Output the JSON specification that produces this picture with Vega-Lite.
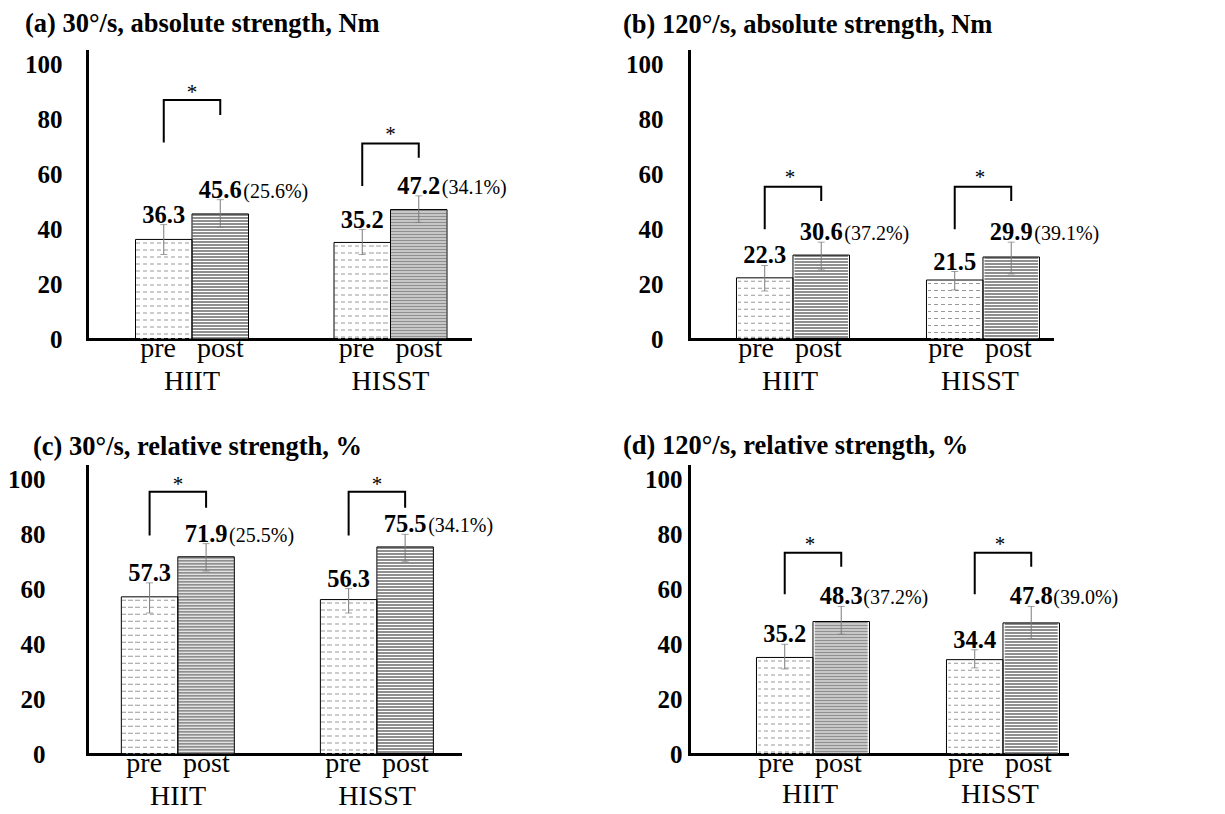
{
  "$schema": "https://vega.github.io/schema/vega-lite/v6.json",
  "background": "white",
  "padding": {"left": 7, "top": 10, "right": 5, "bottom": 2},
  "config": {
    "font": "Liberation Serif",
    "view": {"stroke": null},
    "axis": {"grid": false, "ticks": false, "tickSize": 0, "domainColor": "black", "domainWidth": 3, "labelColor": "black", "title": null, "zindex": 1}
  },
  "columns": 2,
  "bounds": "flush",
  "spacing": {"row": 127, "column": 219},
  "concat": [
    {
      "width": 383, "height": 288,
      "title": {"text": "(a) 30°/s, absolute strength, Nm", "anchor": "start", "frame": "group", "dx": -62, "offset": 14, "fontSize": 26.5, "fontWeight": "bold", "color": "black"},
      "data": {"values": [
        {"group": "HIIT", "time": "pre", "mean": 36.3, "lo": 30.8, "hi": 41.7},
        {"group": "HIIT", "time": "post", "mean": 45.6, "lo": 40.7, "hi": 50.8, "pct": "(25.6%)"},
        {"group": "HISST", "time": "pre", "mean": 35.2, "lo": 30.8, "hi": 39.9},
        {"group": "HISST", "time": "post", "mean": 47.2, "lo": 42.5, "hi": 52.2, "pct": "(34.1%)"}
      ]},
      "encoding": {
        "x": {"field": "group", "type": "nominal", "sort": ["HIIT", "HISST"],
          "scale": {"paddingInner": 0.3, "paddingOuter": 0.11475, "align": 0.78},
          "axis": {"labelExpr": "['pre\u00a0\u00a0\u00a0post', datum.value]", "labelAngle": 0, "labelFontSize": 28, "labelLineHeight": 33, "labelPadding": 17, "labelBaseline": "alphabetic", "domainCap": "square"}}
      },
      "layer": [
        {"transform": [{"filter": "datum.time === 'pre'"}],
         "mark": {"type": "rule", "strokeWidth": 55.5, "strokeDash": [1, 6], "strokeDashOffset": -3, "color": "#999999"},
         "encoding": {
           "xOffset": {"field": "time", "type": "nominal", "sort": ["pre", "post"], "scale": {"paddingInner": 0, "paddingOuter": 0.2296}},
           "y": {"field": "mean", "type": "quantitative", "scale": {"domain": [0, 105], "nice": false},
             "axis": {"values": [0, 20, 40, 60, 80, 100], "labelFontSize": 25, "labelFontWeight": "bold", "labelPadding": 25, "domainCap": "square"}},
           "y2": {"datum": 0}}},
        {"transform": [{"filter": "datum.time === 'pre'"}],
         "mark": {"type": "bar", "stroke": null, "fill": {"gradient": "linear", "x1": 0, "y1": 0, "x2": 1, "y2": 0, "stops": [
           {"offset": 0, "color": "rgba(255,255,255,0)"}, {"offset": 0.075, "color": "rgba(255,255,255,0)"}, {"offset": 0.075, "color": "#ffffff"}, {"offset": 0.125, "color": "#ffffff"},
           {"offset": 0.125, "color": "rgba(255,255,255,0)"}, {"offset": 0.2, "color": "rgba(255,255,255,0)"}, {"offset": 0.2, "color": "#ffffff"}, {"offset": 0.25, "color": "#ffffff"},
           {"offset": 0.25, "color": "rgba(255,255,255,0)"}, {"offset": 0.325, "color": "rgba(255,255,255,0)"}, {"offset": 0.325, "color": "#ffffff"}, {"offset": 0.375, "color": "#ffffff"},
           {"offset": 0.375, "color": "rgba(255,255,255,0)"}, {"offset": 0.45, "color": "rgba(255,255,255,0)"}, {"offset": 0.45, "color": "#ffffff"}, {"offset": 0.5, "color": "#ffffff"},
           {"offset": 0.5, "color": "rgba(255,255,255,0)"}, {"offset": 0.575, "color": "rgba(255,255,255,0)"}, {"offset": 0.575, "color": "#ffffff"}, {"offset": 0.625, "color": "#ffffff"},
           {"offset": 0.625, "color": "rgba(255,255,255,0)"}, {"offset": 0.7, "color": "rgba(255,255,255,0)"}, {"offset": 0.7, "color": "#ffffff"}, {"offset": 0.75, "color": "#ffffff"},
           {"offset": 0.75, "color": "rgba(255,255,255,0)"}, {"offset": 0.825, "color": "rgba(255,255,255,0)"}, {"offset": 0.825, "color": "#ffffff"}, {"offset": 0.875, "color": "#ffffff"},
           {"offset": 0.875, "color": "rgba(255,255,255,0)"}, {"offset": 0.95, "color": "rgba(255,255,255,0)"}, {"offset": 0.95, "color": "#ffffff"}, {"offset": 1, "color": "#ffffff"}]}},
         "encoding": {
           "xOffset": {"field": "time", "type": "nominal", "sort": ["pre", "post"], "scale": {"paddingInner": 0, "paddingOuter": 0.2296}},
           "y": {"field": "mean", "type": "quantitative"}}},
        {"transform": [{"filter": "datum.time === 'post'"}],
         "mark": {"type": "rule", "strokeWidth": 55.5, "strokeDash": [2, 1], "color": "#8f8f8f"},
         "encoding": {
           "xOffset": {"field": "time", "type": "nominal", "sort": ["pre", "post"], "scale": {"paddingInner": 0, "paddingOuter": 0.2296}},
           "y": {"field": "mean", "type": "quantitative"}, "y2": {"datum": 0}}},
        {"mark": {"type": "bar", "fillOpacity": 0, "stroke": "black", "strokeWidth": 1},
         "encoding": {
           "xOffset": {"field": "time", "type": "nominal", "sort": ["pre", "post"], "scale": {"paddingInner": 0, "paddingOuter": 0.2296}},
           "y": {"field": "mean", "type": "quantitative"}}},
        {"mark": {"type": "rule", "color": "#7a7a7a", "strokeWidth": 1},
         "encoding": {
           "xOffset": {"field": "time", "type": "nominal", "sort": ["pre", "post"], "scale": {"paddingInner": 0, "paddingOuter": 0.2296}},
           "y": {"field": "lo", "type": "quantitative"}, "y2": {"field": "hi"}}},
        {"mark": {"type": "tick", "color": "#7a7a7a", "thickness": 1, "size": 7},
         "encoding": {
           "xOffset": {"field": "time", "type": "nominal", "sort": ["pre", "post"], "scale": {"paddingInner": 0, "paddingOuter": 0.2296}},
           "y": {"field": "lo", "type": "quantitative"}}},
        {"mark": {"type": "tick", "color": "#7a7a7a", "thickness": 1, "size": 7},
         "encoding": {
           "xOffset": {"field": "time", "type": "nominal", "sort": ["pre", "post"], "scale": {"paddingInner": 0, "paddingOuter": 0.2296}},
           "y": {"field": "hi", "type": "quantitative"}}},
        {"mark": {"type": "text", "fontSize": 24.5, "fontWeight": "bold", "baseline": "alphabetic", "dy": -2, "color": "black"},
         "encoding": {
           "xOffset": {"field": "time", "type": "nominal", "sort": ["pre", "post"], "scale": {"paddingInner": 0, "paddingOuter": 0.2296}},
           "y": {"field": "hi", "type": "quantitative"}, "text": {"field": "mean", "format": ".1f"}}},
        {"transform": [{"filter": "datum.pct"}],
         "mark": {"type": "text", "fontSize": 20, "align": "left", "baseline": "alphabetic", "dx": 23, "dy": -2, "color": "black"},
         "encoding": {
           "xOffset": {"field": "time", "type": "nominal", "sort": ["pre", "post"], "scale": {"paddingInner": 0, "paddingOuter": 0.2296}},
           "y": {"field": "hi", "type": "quantitative"}, "text": {"field": "pct"}}},
        {"data": {"values": [
          {"group": "HIIT", "time": "pre", "y": 71.6, "ord": 1}, {"group": "HIIT", "time": "pre", "y": 87.1, "ord": 2},
          {"group": "HIIT", "time": "post", "y": 87.1, "ord": 3}, {"group": "HIIT", "time": "post", "y": 81.7, "ord": 4},
          {"group": "HISST", "time": "pre", "y": 55.8, "ord": 1}, {"group": "HISST", "time": "pre", "y": 71.3, "ord": 2},
          {"group": "HISST", "time": "post", "y": 71.3, "ord": 3}, {"group": "HISST", "time": "post", "y": 66.1, "ord": 4}]},
         "mark": {"type": "line", "color": "black", "strokeWidth": 2},
         "encoding": {
           "xOffset": {"field": "time", "type": "nominal", "sort": ["pre", "post"], "scale": {"paddingInner": 0, "paddingOuter": 0.2296}},
           "y": {"field": "y", "type": "quantitative"}, "detail": {"field": "group"}, "order": {"field": "ord"}}},
        {"data": {"values": [{"group": "HIIT", "y": 89.6}, {"group": "HISST", "y": 74.4}]},
         "mark": {"type": "text", "fontSize": 21, "baseline": "middle", "color": "black"},
         "encoding": {"y": {"field": "y", "type": "quantitative"}, "text": {"value": "*"}}}
      ]
    },
    {
      "width": 363, "height": 288,
      "title": {"text": "(b) 120°/s, absolute strength, Nm", "anchor": "start", "frame": "group", "dx": -66, "offset": 13, "fontSize": 26.5, "fontWeight": "bold", "color": "black"},
      "data": {"values": [
        {"group": "HIIT", "time": "pre", "mean": 22.3, "lo": 17.5, "hi": 26.8},
        {"group": "HIIT", "time": "post", "mean": 30.6, "lo": 25.2, "hi": 35.3, "pct": "\u00a0(37.2%)"},
        {"group": "HISST", "time": "pre", "mean": 21.5, "lo": 17.9, "hi": 24.6},
        {"group": "HISST", "time": "post", "mean": 29.9, "lo": 23.7, "hi": 35.3, "pct": "\u00a0(39.1%)"}
      ]},
      "encoding": {
        "x": {"field": "group", "type": "nominal", "sort": ["HIIT", "HISST"],
          "scale": {"paddingInner": 0.3, "paddingOuter": 0.10526, "align": 0.8625},
          "axis": {"labelExpr": "['pre\u00a0\u00a0\u00a0post', datum.value]", "labelAngle": 0, "labelFontSize": 28, "labelLineHeight": 33, "labelPadding": 17, "labelBaseline": "alphabetic", "domainCap": "square"}}
      },
      "layer": [
        {"transform": [{"filter": "datum.time === 'pre'"}],
         "mark": {"type": "rule", "strokeWidth": 53.5, "strokeDash": [1, 6], "strokeDashOffset": -3, "color": "#999999"},
         "encoding": {
           "xOffset": {"field": "time", "type": "nominal", "sort": ["pre", "post"], "scale": {"paddingInner": 0, "paddingOuter": 0.22}},
           "y": {"field": "mean", "type": "quantitative", "scale": {"domain": [0, 105], "nice": false},
             "axis": {"values": [0, 20, 40, 60, 80, 100], "labelFontSize": 25, "labelFontWeight": "bold", "labelPadding": 26, "domainCap": "square"}},
           "y2": {"datum": 0}}},
        {"transform": [{"filter": "datum.time === 'pre'"}],
         "mark": {"type": "bar", "stroke": null, "fill": {"gradient": "linear", "x1": 0, "y1": 0, "x2": 1, "y2": 0, "stops": [
           {"offset": 0, "color": "rgba(255,255,255,0)"}, {"offset": 0.075, "color": "rgba(255,255,255,0)"}, {"offset": 0.075, "color": "#ffffff"}, {"offset": 0.125, "color": "#ffffff"},
           {"offset": 0.125, "color": "rgba(255,255,255,0)"}, {"offset": 0.2, "color": "rgba(255,255,255,0)"}, {"offset": 0.2, "color": "#ffffff"}, {"offset": 0.25, "color": "#ffffff"},
           {"offset": 0.25, "color": "rgba(255,255,255,0)"}, {"offset": 0.325, "color": "rgba(255,255,255,0)"}, {"offset": 0.325, "color": "#ffffff"}, {"offset": 0.375, "color": "#ffffff"},
           {"offset": 0.375, "color": "rgba(255,255,255,0)"}, {"offset": 0.45, "color": "rgba(255,255,255,0)"}, {"offset": 0.45, "color": "#ffffff"}, {"offset": 0.5, "color": "#ffffff"},
           {"offset": 0.5, "color": "rgba(255,255,255,0)"}, {"offset": 0.575, "color": "rgba(255,255,255,0)"}, {"offset": 0.575, "color": "#ffffff"}, {"offset": 0.625, "color": "#ffffff"},
           {"offset": 0.625, "color": "rgba(255,255,255,0)"}, {"offset": 0.7, "color": "rgba(255,255,255,0)"}, {"offset": 0.7, "color": "#ffffff"}, {"offset": 0.75, "color": "#ffffff"},
           {"offset": 0.75, "color": "rgba(255,255,255,0)"}, {"offset": 0.825, "color": "rgba(255,255,255,0)"}, {"offset": 0.825, "color": "#ffffff"}, {"offset": 0.875, "color": "#ffffff"},
           {"offset": 0.875, "color": "rgba(255,255,255,0)"}, {"offset": 0.95, "color": "rgba(255,255,255,0)"}, {"offset": 0.95, "color": "#ffffff"}, {"offset": 1, "color": "#ffffff"}]}},
         "encoding": {
           "xOffset": {"field": "time", "type": "nominal", "sort": ["pre", "post"], "scale": {"paddingInner": 0, "paddingOuter": 0.22}},
           "y": {"field": "mean", "type": "quantitative"}}},
        {"transform": [{"filter": "datum.time === 'post'"}],
         "mark": {"type": "rule", "strokeWidth": 53.5, "strokeDash": [2, 1], "color": "#8f8f8f"},
         "encoding": {
           "xOffset": {"field": "time", "type": "nominal", "sort": ["pre", "post"], "scale": {"paddingInner": 0, "paddingOuter": 0.22}},
           "y": {"field": "mean", "type": "quantitative"}, "y2": {"datum": 0}}},
        {"mark": {"type": "bar", "fillOpacity": 0, "stroke": "black", "strokeWidth": 1},
         "encoding": {
           "xOffset": {"field": "time", "type": "nominal", "sort": ["pre", "post"], "scale": {"paddingInner": 0, "paddingOuter": 0.22}},
           "y": {"field": "mean", "type": "quantitative"}}},
        {"mark": {"type": "rule", "color": "#7a7a7a", "strokeWidth": 1},
         "encoding": {
           "xOffset": {"field": "time", "type": "nominal", "sort": ["pre", "post"], "scale": {"paddingInner": 0, "paddingOuter": 0.22}},
           "y": {"field": "lo", "type": "quantitative"}, "y2": {"field": "hi"}}},
        {"mark": {"type": "tick", "color": "#7a7a7a", "thickness": 1, "size": 7},
         "encoding": {
           "xOffset": {"field": "time", "type": "nominal", "sort": ["pre", "post"], "scale": {"paddingInner": 0, "paddingOuter": 0.22}},
           "y": {"field": "lo", "type": "quantitative"}}},
        {"mark": {"type": "tick", "color": "#7a7a7a", "thickness": 1, "size": 7},
         "encoding": {
           "xOffset": {"field": "time", "type": "nominal", "sort": ["pre", "post"], "scale": {"paddingInner": 0, "paddingOuter": 0.22}},
           "y": {"field": "hi", "type": "quantitative"}}},
        {"mark": {"type": "text", "fontSize": 24.5, "fontWeight": "bold", "baseline": "alphabetic", "dy": -2, "color": "black"},
         "encoding": {
           "xOffset": {"field": "time", "type": "nominal", "sort": ["pre", "post"], "scale": {"paddingInner": 0, "paddingOuter": 0.22}},
           "y": {"field": "hi", "type": "quantitative"}, "text": {"field": "mean", "format": ".1f"}}},
        {"transform": [{"filter": "datum.pct"}],
         "mark": {"type": "text", "fontSize": 20, "align": "left", "baseline": "alphabetic", "dx": 23, "dy": -2, "color": "black"},
         "encoding": {
           "xOffset": {"field": "time", "type": "nominal", "sort": ["pre", "post"], "scale": {"paddingInner": 0, "paddingOuter": 0.22}},
           "y": {"field": "hi", "type": "quantitative"}, "text": {"field": "pct"}}},
        {"data": {"values": [
          {"group": "HIIT", "time": "pre", "y": 40.0, "ord": 1}, {"group": "HIIT", "time": "pre", "y": 55.5, "ord": 2},
          {"group": "HIIT", "time": "post", "y": 55.5, "ord": 3}, {"group": "HIIT", "time": "post", "y": 50.3, "ord": 4},
          {"group": "HISST", "time": "pre", "y": 40.0, "ord": 1}, {"group": "HISST", "time": "pre", "y": 55.5, "ord": 2},
          {"group": "HISST", "time": "post", "y": 55.5, "ord": 3}, {"group": "HISST", "time": "post", "y": 50.3, "ord": 4}]},
         "mark": {"type": "line", "color": "black", "strokeWidth": 2},
         "encoding": {
           "xOffset": {"field": "time", "type": "nominal", "sort": ["pre", "post"], "scale": {"paddingInner": 0, "paddingOuter": 0.22}},
           "y": {"field": "y", "type": "quantitative"}, "detail": {"field": "group"}, "order": {"field": "ord"}}},
        {"data": {"values": [{"group": "HIIT", "y": 58.7}, {"group": "HISST", "y": 58.7}]},
         "mark": {"type": "text", "fontSize": 21, "baseline": "middle", "color": "black"},
         "encoding": {"y": {"field": "y", "type": "quantitative"}, "text": {"value": "*"}}}
      ]
    },
    {
      "width": 373, "height": 288,
      "title": {"text": "(c) 30°/s, relative strength, %", "anchor": "start", "frame": "group", "dx": -54, "offset": 6, "fontSize": 26.5, "fontWeight": "bold", "color": "black"},
      "data": {"values": [
        {"group": "HIIT", "time": "pre", "mean": 57.3, "lo": 51.4, "hi": 62.4},
        {"group": "HIIT", "time": "post", "mean": 71.9, "lo": 66.7, "hi": 76.7, "pct": "(25.5%)"},
        {"group": "HISST", "time": "pre", "mean": 56.3, "lo": 51.4, "hi": 60.3},
        {"group": "HISST", "time": "post", "mean": 75.5, "lo": 70.1, "hi": 80.1, "pct": "\u00a0(34.1%)"}
      ]},
      "encoding": {
        "x": {"field": "group", "type": "nominal", "sort": ["HIIT", "HISST"],
          "scale": {"paddingInner": 0.3, "paddingOuter": 0.087, "align": 0.617},
          "axis": {"labelExpr": "['pre\u00a0\u00a0\u00a0post', datum.value]", "labelAngle": 0, "labelFontSize": 28, "labelLineHeight": 33, "labelPadding": 17, "labelBaseline": "alphabetic", "domainCap": "square"}}
      },
      "layer": [
        {"transform": [{"filter": "datum.time === 'pre'"}],
         "mark": {"type": "rule", "strokeWidth": 55.75, "strokeDash": [1, 6], "strokeDashOffset": -3, "color": "#999999"},
         "encoding": {
           "xOffset": {"field": "time", "type": "nominal", "sort": ["pre", "post"], "scale": {"paddingInner": 0, "paddingOuter": 0.227}},
           "y": {"field": "mean", "type": "quantitative", "scale": {"domain": [0, 105], "nice": false},
             "axis": {"values": [0, 20, 40, 60, 80, 100], "labelFontSize": 25, "labelFontWeight": "bold", "labelPadding": 42, "domainCap": "square"}},
           "y2": {"datum": 0}}},
        {"transform": [{"filter": "datum.time === 'pre'"}],
         "mark": {"type": "bar", "stroke": null, "fill": {"gradient": "linear", "x1": 0, "y1": 0, "x2": 1, "y2": 0, "stops": [
           {"offset": 0, "color": "rgba(255,255,255,0)"}, {"offset": 0.075, "color": "rgba(255,255,255,0)"}, {"offset": 0.075, "color": "#ffffff"}, {"offset": 0.125, "color": "#ffffff"},
           {"offset": 0.125, "color": "rgba(255,255,255,0)"}, {"offset": 0.2, "color": "rgba(255,255,255,0)"}, {"offset": 0.2, "color": "#ffffff"}, {"offset": 0.25, "color": "#ffffff"},
           {"offset": 0.25, "color": "rgba(255,255,255,0)"}, {"offset": 0.325, "color": "rgba(255,255,255,0)"}, {"offset": 0.325, "color": "#ffffff"}, {"offset": 0.375, "color": "#ffffff"},
           {"offset": 0.375, "color": "rgba(255,255,255,0)"}, {"offset": 0.45, "color": "rgba(255,255,255,0)"}, {"offset": 0.45, "color": "#ffffff"}, {"offset": 0.5, "color": "#ffffff"},
           {"offset": 0.5, "color": "rgba(255,255,255,0)"}, {"offset": 0.575, "color": "rgba(255,255,255,0)"}, {"offset": 0.575, "color": "#ffffff"}, {"offset": 0.625, "color": "#ffffff"},
           {"offset": 0.625, "color": "rgba(255,255,255,0)"}, {"offset": 0.7, "color": "rgba(255,255,255,0)"}, {"offset": 0.7, "color": "#ffffff"}, {"offset": 0.75, "color": "#ffffff"},
           {"offset": 0.75, "color": "rgba(255,255,255,0)"}, {"offset": 0.825, "color": "rgba(255,255,255,0)"}, {"offset": 0.825, "color": "#ffffff"}, {"offset": 0.875, "color": "#ffffff"},
           {"offset": 0.875, "color": "rgba(255,255,255,0)"}, {"offset": 0.95, "color": "rgba(255,255,255,0)"}, {"offset": 0.95, "color": "#ffffff"}, {"offset": 1, "color": "#ffffff"}]}},
         "encoding": {
           "xOffset": {"field": "time", "type": "nominal", "sort": ["pre", "post"], "scale": {"paddingInner": 0, "paddingOuter": 0.227}},
           "y": {"field": "mean", "type": "quantitative"}}},
        {"transform": [{"filter": "datum.time === 'post'"}],
         "mark": {"type": "rule", "strokeWidth": 55.75, "strokeDash": [2, 1], "color": "#8f8f8f"},
         "encoding": {
           "xOffset": {"field": "time", "type": "nominal", "sort": ["pre", "post"], "scale": {"paddingInner": 0, "paddingOuter": 0.227}},
           "y": {"field": "mean", "type": "quantitative"}, "y2": {"datum": 0}}},
        {"mark": {"type": "bar", "fillOpacity": 0, "stroke": "black", "strokeWidth": 1},
         "encoding": {
           "xOffset": {"field": "time", "type": "nominal", "sort": ["pre", "post"], "scale": {"paddingInner": 0, "paddingOuter": 0.227}},
           "y": {"field": "mean", "type": "quantitative"}}},
        {"mark": {"type": "rule", "color": "#7a7a7a", "strokeWidth": 1},
         "encoding": {
           "xOffset": {"field": "time", "type": "nominal", "sort": ["pre", "post"], "scale": {"paddingInner": 0, "paddingOuter": 0.227}},
           "y": {"field": "lo", "type": "quantitative"}, "y2": {"field": "hi"}}},
        {"mark": {"type": "tick", "color": "#7a7a7a", "thickness": 1, "size": 7},
         "encoding": {
           "xOffset": {"field": "time", "type": "nominal", "sort": ["pre", "post"], "scale": {"paddingInner": 0, "paddingOuter": 0.227}},
           "y": {"field": "lo", "type": "quantitative"}}},
        {"mark": {"type": "tick", "color": "#7a7a7a", "thickness": 1, "size": 7},
         "encoding": {
           "xOffset": {"field": "time", "type": "nominal", "sort": ["pre", "post"], "scale": {"paddingInner": 0, "paddingOuter": 0.227}},
           "y": {"field": "hi", "type": "quantitative"}}},
        {"mark": {"type": "text", "fontSize": 24.5, "fontWeight": "bold", "baseline": "alphabetic", "dy": -2, "color": "black"},
         "encoding": {
           "xOffset": {"field": "time", "type": "nominal", "sort": ["pre", "post"], "scale": {"paddingInner": 0, "paddingOuter": 0.227}},
           "y": {"field": "hi", "type": "quantitative"}, "text": {"field": "mean", "format": ".1f"}}},
        {"transform": [{"filter": "datum.pct"}],
         "mark": {"type": "text", "fontSize": 20, "align": "left", "baseline": "alphabetic", "dx": 23, "dy": -2, "color": "black"},
         "encoding": {
           "xOffset": {"field": "time", "type": "nominal", "sort": ["pre", "post"], "scale": {"paddingInner": 0, "paddingOuter": 0.227}},
           "y": {"field": "hi", "type": "quantitative"}, "text": {"field": "pct"}}},
        {"data": {"values": [
          {"group": "HIIT", "time": "pre", "y": 79.7, "ord": 1}, {"group": "HIIT", "time": "pre", "y": 95.6, "ord": 2},
          {"group": "HIIT", "time": "post", "y": 95.6, "ord": 3}, {"group": "HIIT", "time": "post", "y": 89.8, "ord": 4},
          {"group": "HISST", "time": "pre", "y": 79.7, "ord": 1}, {"group": "HISST", "time": "pre", "y": 95.6, "ord": 2},
          {"group": "HISST", "time": "post", "y": 95.6, "ord": 3}, {"group": "HISST", "time": "post", "y": 89.8, "ord": 4}]},
         "mark": {"type": "line", "color": "black", "strokeWidth": 2},
         "encoding": {
           "xOffset": {"field": "time", "type": "nominal", "sort": ["pre", "post"], "scale": {"paddingInner": 0, "paddingOuter": 0.227}},
           "y": {"field": "y", "type": "quantitative"}, "detail": {"field": "group"}, "order": {"field": "ord"}}},
        {"data": {"values": [{"group": "HIIT", "y": 98.1}, {"group": "HISST", "y": 98.1}]},
         "mark": {"type": "text", "fontSize": 21, "baseline": "middle", "color": "black"},
         "encoding": {"y": {"field": "y", "type": "quantitative"}, "text": {"value": "*"}}}
      ]
    },
    {
      "width": 378, "height": 288,
      "title": {"text": "(d) 120°/s, relative strength, %", "anchor": "start", "frame": "group", "dx": -66, "offset": 7, "fontSize": 26.5, "fontWeight": "bold", "color": "black"},
      "data": {"values": [
        {"group": "HIIT", "time": "pre", "mean": 35.2, "lo": 31.0, "hi": 40.0},
        {"group": "HIIT", "time": "post", "mean": 48.3, "lo": 43.7, "hi": 53.8, "pct": "(37.2%)"},
        {"group": "HISST", "time": "pre", "mean": 34.4, "lo": 31.4, "hi": 38.0},
        {"group": "HISST", "time": "post", "mean": 47.8, "lo": 42.1, "hi": 53.8, "pct": "(39.0%)"}
      ]},
      "encoding": {
        "x": {"field": "group", "type": "nominal", "sort": ["HIIT", "HISST"],
          "scale": {"paddingInner": 0.3, "paddingOuter": 0.14474, "align": 0.991},
          "axis": {"labelExpr": "['pre\u00a0\u00a0\u00a0post', datum.value]", "labelAngle": 0, "labelFontSize": 28, "labelLineHeight": 31, "labelPadding": 17, "labelBaseline": "alphabetic", "domainCap": "square"}}
      },
      "layer": [
        {"transform": [{"filter": "datum.time === 'pre'"}],
         "mark": {"type": "rule", "strokeWidth": 53, "strokeDash": [1, 6], "strokeDashOffset": -3, "color": "#999999"},
         "encoding": {
           "xOffset": {"field": "time", "type": "nominal", "sort": ["pre", "post"], "scale": {"paddingInner": 0, "paddingOuter": 0.2315}},
           "y": {"field": "mean", "type": "quantitative", "scale": {"domain": [0, 105], "nice": false},
             "axis": {"values": [0, 20, 40, 60, 80, 100], "labelFontSize": 25, "labelFontWeight": "bold", "labelPadding": 7, "domainCap": "square"}},
           "y2": {"datum": 0}}},
        {"transform": [{"filter": "datum.time === 'pre'"}],
         "mark": {"type": "bar", "stroke": null, "fill": {"gradient": "linear", "x1": 0, "y1": 0, "x2": 1, "y2": 0, "stops": [
           {"offset": 0, "color": "rgba(255,255,255,0)"}, {"offset": 0.075, "color": "rgba(255,255,255,0)"}, {"offset": 0.075, "color": "#ffffff"}, {"offset": 0.125, "color": "#ffffff"},
           {"offset": 0.125, "color": "rgba(255,255,255,0)"}, {"offset": 0.2, "color": "rgba(255,255,255,0)"}, {"offset": 0.2, "color": "#ffffff"}, {"offset": 0.25, "color": "#ffffff"},
           {"offset": 0.25, "color": "rgba(255,255,255,0)"}, {"offset": 0.325, "color": "rgba(255,255,255,0)"}, {"offset": 0.325, "color": "#ffffff"}, {"offset": 0.375, "color": "#ffffff"},
           {"offset": 0.375, "color": "rgba(255,255,255,0)"}, {"offset": 0.45, "color": "rgba(255,255,255,0)"}, {"offset": 0.45, "color": "#ffffff"}, {"offset": 0.5, "color": "#ffffff"},
           {"offset": 0.5, "color": "rgba(255,255,255,0)"}, {"offset": 0.575, "color": "rgba(255,255,255,0)"}, {"offset": 0.575, "color": "#ffffff"}, {"offset": 0.625, "color": "#ffffff"},
           {"offset": 0.625, "color": "rgba(255,255,255,0)"}, {"offset": 0.7, "color": "rgba(255,255,255,0)"}, {"offset": 0.7, "color": "#ffffff"}, {"offset": 0.75, "color": "#ffffff"},
           {"offset": 0.75, "color": "rgba(255,255,255,0)"}, {"offset": 0.825, "color": "rgba(255,255,255,0)"}, {"offset": 0.825, "color": "#ffffff"}, {"offset": 0.875, "color": "#ffffff"},
           {"offset": 0.875, "color": "rgba(255,255,255,0)"}, {"offset": 0.95, "color": "rgba(255,255,255,0)"}, {"offset": 0.95, "color": "#ffffff"}, {"offset": 1, "color": "#ffffff"}]}},
         "encoding": {
           "xOffset": {"field": "time", "type": "nominal", "sort": ["pre", "post"], "scale": {"paddingInner": 0, "paddingOuter": 0.2315}},
           "y": {"field": "mean", "type": "quantitative"}}},
        {"transform": [{"filter": "datum.time === 'post'"}],
         "mark": {"type": "rule", "strokeWidth": 53, "strokeDash": [2, 1], "color": "#8f8f8f"},
         "encoding": {
           "xOffset": {"field": "time", "type": "nominal", "sort": ["pre", "post"], "scale": {"paddingInner": 0, "paddingOuter": 0.2315}},
           "y": {"field": "mean", "type": "quantitative"}, "y2": {"datum": 0}}},
        {"mark": {"type": "bar", "fillOpacity": 0, "stroke": "black", "strokeWidth": 1},
         "encoding": {
           "xOffset": {"field": "time", "type": "nominal", "sort": ["pre", "post"], "scale": {"paddingInner": 0, "paddingOuter": 0.2315}},
           "y": {"field": "mean", "type": "quantitative"}}},
        {"mark": {"type": "rule", "color": "#7a7a7a", "strokeWidth": 1},
         "encoding": {
           "xOffset": {"field": "time", "type": "nominal", "sort": ["pre", "post"], "scale": {"paddingInner": 0, "paddingOuter": 0.2315}},
           "y": {"field": "lo", "type": "quantitative"}, "y2": {"field": "hi"}}},
        {"mark": {"type": "tick", "color": "#7a7a7a", "thickness": 1, "size": 7},
         "encoding": {
           "xOffset": {"field": "time", "type": "nominal", "sort": ["pre", "post"], "scale": {"paddingInner": 0, "paddingOuter": 0.2315}},
           "y": {"field": "lo", "type": "quantitative"}}},
        {"mark": {"type": "tick", "color": "#7a7a7a", "thickness": 1, "size": 7},
         "encoding": {
           "xOffset": {"field": "time", "type": "nominal", "sort": ["pre", "post"], "scale": {"paddingInner": 0, "paddingOuter": 0.2315}},
           "y": {"field": "hi", "type": "quantitative"}}},
        {"mark": {"type": "text", "fontSize": 24.5, "fontWeight": "bold", "baseline": "alphabetic", "dy": -2, "color": "black"},
         "encoding": {
           "xOffset": {"field": "time", "type": "nominal", "sort": ["pre", "post"], "scale": {"paddingInner": 0, "paddingOuter": 0.2315}},
           "y": {"field": "hi", "type": "quantitative"}, "text": {"field": "mean", "format": ".1f"}}},
        {"transform": [{"filter": "datum.pct"}],
         "mark": {"type": "text", "fontSize": 20, "align": "left", "baseline": "alphabetic", "dx": 22, "dy": -2, "color": "black"},
         "encoding": {
           "xOffset": {"field": "time", "type": "nominal", "sort": ["pre", "post"], "scale": {"paddingInner": 0, "paddingOuter": 0.2315}},
           "y": {"field": "hi", "type": "quantitative"}, "text": {"field": "pct"}}},
        {"data": {"values": [
          {"group": "HIIT", "time": "pre", "y": 58.2, "ord": 1}, {"group": "HIIT", "time": "pre", "y": 73.4, "ord": 2},
          {"group": "HIIT", "time": "post", "y": 73.4, "ord": 3}, {"group": "HIIT", "time": "post", "y": 68.3, "ord": 4},
          {"group": "HISST", "time": "pre", "y": 58.2, "ord": 1}, {"group": "HISST", "time": "pre", "y": 73.4, "ord": 2},
          {"group": "HISST", "time": "post", "y": 73.4, "ord": 3}, {"group": "HISST", "time": "post", "y": 68.3, "ord": 4}]},
         "mark": {"type": "line", "color": "black", "strokeWidth": 2},
         "encoding": {
           "xOffset": {"field": "time", "type": "nominal", "sort": ["pre", "post"], "scale": {"paddingInner": 0, "paddingOuter": 0.2315}},
           "y": {"field": "y", "type": "quantitative"}, "detail": {"field": "group"}, "order": {"field": "ord"}}},
        {"data": {"values": [{"group": "HIIT", "y": 76.2}, {"group": "HISST", "y": 76.2}]},
         "mark": {"type": "text", "fontSize": 21, "baseline": "middle", "color": "black"},
         "encoding": {"y": {"field": "y", "type": "quantitative"}, "text": {"value": "*"}}}
      ]
    }
  ]
}
